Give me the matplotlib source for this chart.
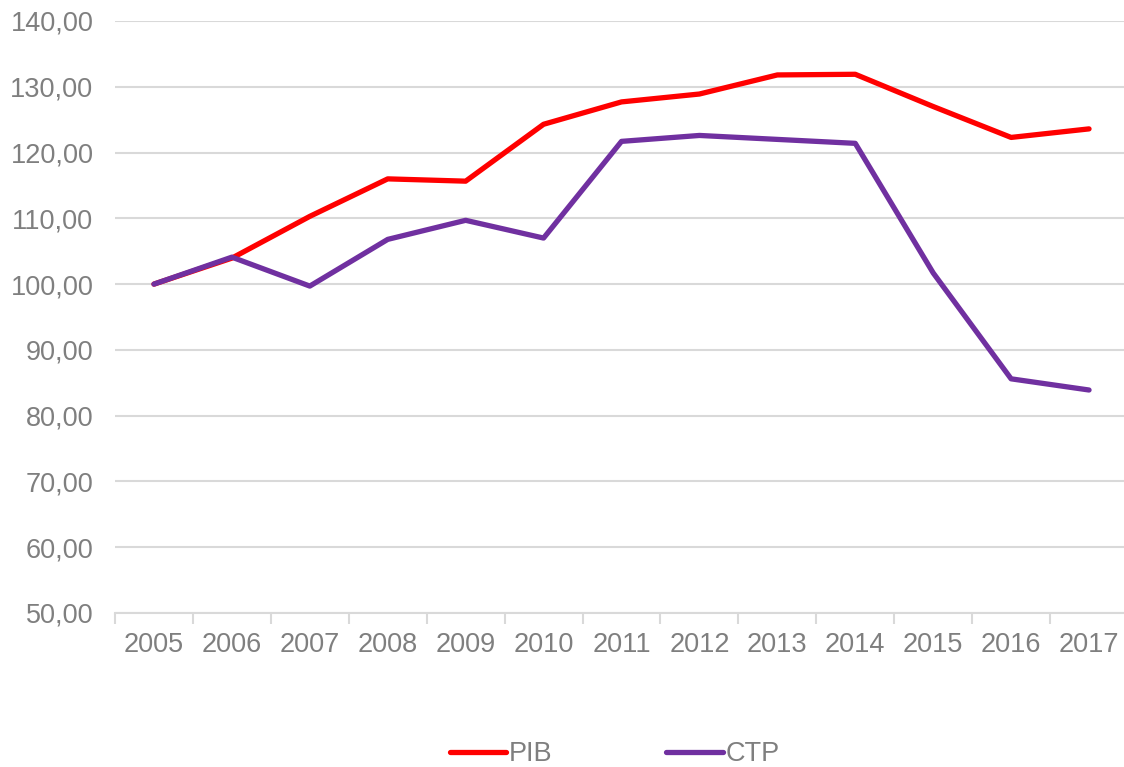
import matplotlib.pyplot as plt
from matplotlib.ticker import FixedLocator, FuncFormatter

years = ['2005', '2006', '2007', '2008', '2009', '2010', '2011',
         '2012', '2013', '2014', '2015', '2016', '2017']
pib = [100.0, 103.95, 110.3, 116.0, 115.65, 124.3, 127.7,
       128.9, 131.8, 131.9, 127.0, 122.3, 123.6]
ctp = [100.0, 104.1, 99.7, 106.8, 109.7, 107.0, 121.7,
       122.6, 122.0, 121.4, 101.7, 85.6, 83.9]

plt.rcParams['font.family'] = ['Liberation Sans', 'DejaVu Sans']
grey = '#7f7f7f'
gridc = '#d9d9d9'

fig = plt.figure(figsize=(11.24, 7.67), dpi=100)
ax = fig.add_axes([115 / 1124, 1 - 613 / 767, (1128 - 115) / 1124, (613 - 21) / 767])

x = list(range(len(years)))
ax.plot(x, pib, color='#ff0000', lw=3.8, solid_capstyle='round', label='PIB')
ax.plot(x, ctp, color='#7030a0', lw=3.8, solid_capstyle='round', label='CTP')

ax.set_xlim(-0.5, len(years) - 0.5)
ax.set_ylim(50, 140)
ax.set_yticks(range(50, 141, 10))
ax.yaxis.set_major_formatter(FuncFormatter(lambda v, p: f'{v:.2f}'.replace('.', ',')))
ax.grid(axis='y', color=gridc, lw=1.5)
ax.set_axisbelow(True)

ax.set_xticks(x)
ax.set_xticklabels(years)
ax.xaxis.set_minor_locator(FixedLocator([i - 0.5 for i in range(len(years) + 1)]))
ax.tick_params(axis='x', which='major', length=0, pad=14, labelsize=19.5, labelcolor=grey)
ax.tick_params(axis='x', which='minor', length=8, width=1.5, color=gridc)
ax.tick_params(axis='y', length=0, pad=15.5, labelsize=19.5, labelcolor=grey)

for s in ['top', 'right', 'left']:
    ax.spines[s].set_visible(False)
ax.spines['bottom'].set_color(gridc)
ax.spines['bottom'].set_linewidth(1.5)

fig.legend(loc='lower center', bbox_to_anchor=(0.547, -0.032), ncol=2, frameon=False,
           fontsize=19.5, labelcolor=grey, handlelength=2.1, handletextpad=0.1,
           columnspacing=4.2)

fig.savefig('out.png', dpi=100)
